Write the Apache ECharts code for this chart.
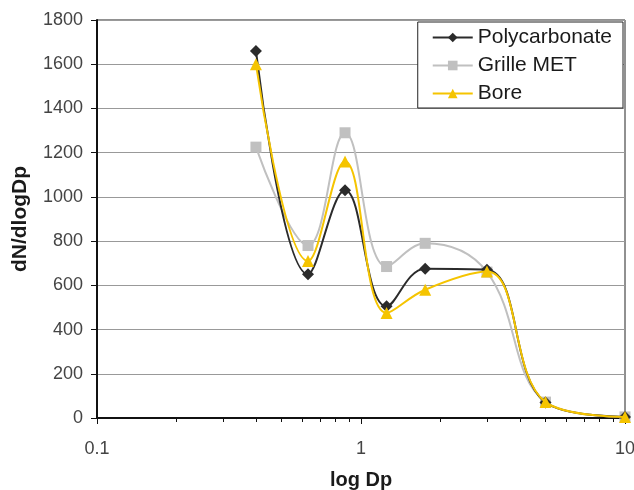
<!DOCTYPE html>
<html><head><meta charset="utf-8">
<script src="https://cdn.jsdelivr.net/npm/echarts@6/dist/echarts.min.js"></script>
<style>html,body{margin:0;padding:0;background:#fff}#c{width:634px;height:490px}</style>
</head><body><div id="c"></div>
<script>
const diameters = [0.4, 0.63, 0.87, 1.25, 1.75, 3, 5, 10];
const polycarbonate = [1660, 650, 1030, 505, 675, 670, 70, 5];
const grilleMET = [1225, 780, 1290, 685, 790, 660, 72, 5];
const bore = [1600, 710, 1160, 475, 580, 662, 72, 5];
const yTicks = [0, 200, 400, 600, 800, 1000, 1200, 1400, 1600, 1800];

const pairs = v => diameters.map((d, i) => [d, v[i]]);
const font = 'Liberation Sans, Arial, sans-serif';
const chart = echarts.init(document.getElementById('c'));
chart.setOption({
  animation: false,
  grid: {left: 97, right: 9, top: 20, bottom: 72, show: true, borderColor: '#222', borderWidth: 1,
    outerBoundsMode: 'none', containLabel: false},
  legend: {
    right: 11, top: 22, orient: 'vertical', itemGap: 7, itemWidth: 40, itemHeight: 12,
    backgroundColor: '#fff', borderColor: '#222', borderWidth: 1, padding: [5, 11, 4, 14],
    textStyle: {fontFamily: font, fontSize: 21, lineHeight: 20, color: '#1a1a1a'},
    data: ['Polycarbonate', 'Grille MET', 'Bore']
  },
  xAxis: {
    type: 'log', logBase: 10, min: 0.1, max: 10,
    name: 'log Dp', nameLocation: 'middle', nameGap: 52,
    nameTextStyle: {fontFamily: font, fontSize: 20, fontWeight: 'bold', color: '#1a1a1a'},
    axisLine: {lineStyle: {color: '#111', width: 2}},
    axisTick: {show: true, length: 6, inside: false, lineStyle: {color: '#111'}},
    minorTick: {show: true, splitNumber: 9, length: 4, lineStyle: {color: '#111'}},
    splitLine: {show: false},
    axisLabel: {fontFamily: font, fontSize: 18, color: '#444', margin: 22,
      formatter: v => String(v)}
  },
  yAxis: {
    type: 'value', min: 0, max: 1800, interval: 200,
    name: 'dN/dlogDp', nameLocation: 'middle', nameGap: 66,
    nameTextStyle: {fontFamily: font, fontSize: 21, fontWeight: 'bold', color: '#1a1a1a'},
    axisLine: {show: true, lineStyle: {color: '#111', width: 2}},
    axisTick: {show: true, length: 6, lineStyle: {color: '#111'}},
    splitLine: {lineStyle: {color: '#999', width: 1}},
    axisLabel: {fontFamily: font, fontSize: 18, color: '#444', margin: 14,
      formatter: v => yTicks.includes(v) ? String(v) : ''}
  },
  series: [
    {name: 'Grille MET', type: 'line', smooth: 0.4, data: pairs(grilleMET),
      symbol: 'rect', symbolSize: 11, color: '#c0c0c0', lineStyle: {width: 2, color: '#c0c0c0'}, z: 2},
    {name: 'Polycarbonate', type: 'line', smooth: 0.4, data: pairs(polycarbonate),
      symbol: 'diamond', symbolSize: 12, color: '#2b2b2b', lineStyle: {width: 2, color: '#2b2b2b'}, z: 3},
    {name: 'Bore', type: 'line', smooth: 0.4, data: pairs(bore),
      symbol: 'triangle', symbolSize: 12, color: '#f5c400', lineStyle: {width: 2, color: '#f5c400'}, z: 4}
  ]
});
</script></body></html>
